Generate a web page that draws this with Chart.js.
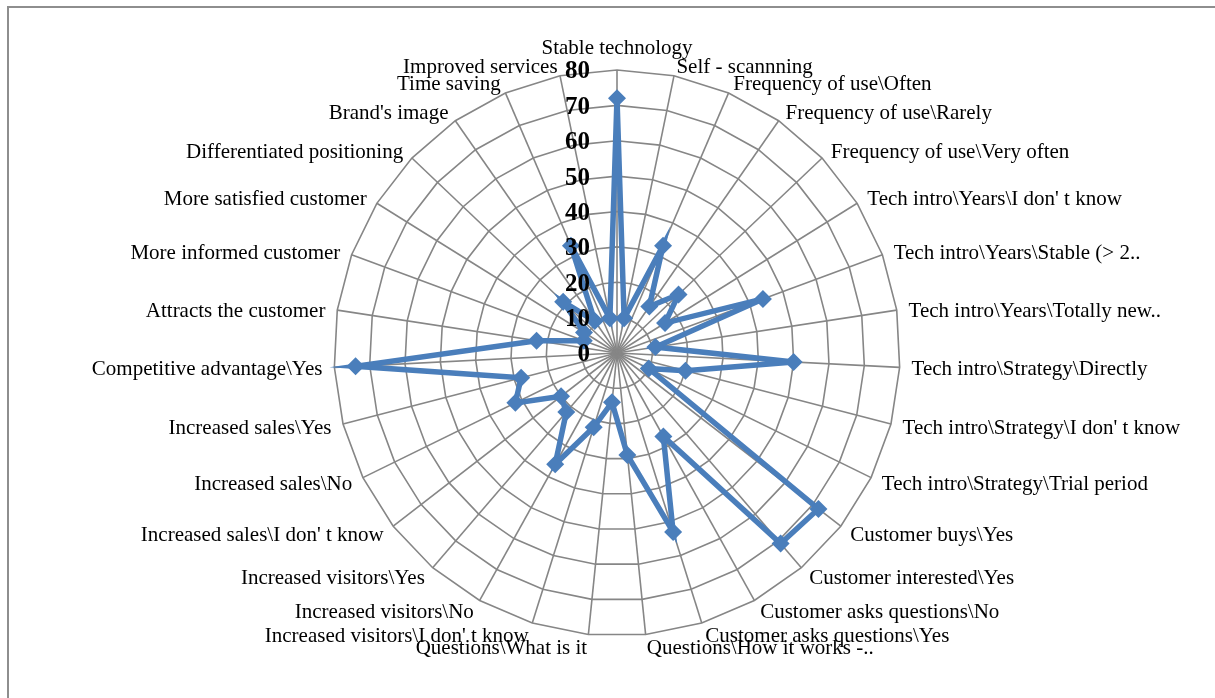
<!DOCTYPE html>
<html>
<head>
<meta charset="utf-8">
<script src="https://cdn.jsdelivr.net/npm/chart.js@4.4.0/dist/chart.umd.min.js"></script>
<style>
  body { margin: 0; background: #fff; }
  #frame { position: absolute; left: 7px; top: 6px; width: 1230px; height: 730px; border: 2px solid #8e8e8e; }
  #radarChart { position: absolute; left: 0; top: 0; }
</style>
</head>
<body>
<div id="frame"></div>
<canvas id="radarChart" width="1215" height="698"></canvas>
<script>
const categories = [
    'Stable technology',
    'Self - scannning',
    'Frequency of use\\Often',
    'Frequency of use\\Rarely',
    'Frequency of use\\Very often',
    'Tech intro\\Years\\I don\' t know',
    'Tech intro\\Years\\Stable (> 2..',
    'Tech intro\\Years\\Totally new..',
    'Tech intro\\Strategy\\Directly',
    'Tech intro\\Strategy\\I don\' t know',
    'Tech intro\\Strategy\\Trial period',
    'Customer buys\\Yes',
    'Customer interested\\Yes',
    'Customer asks questions\\No',
    'Customer asks questions\\Yes',
    'Questions\\How it works -..',
    'Questions\\What is it',
    'Increased visitors\\I don\' t know',
    'Increased visitors\\No',
    'Increased visitors\\Yes',
    'Increased sales\\I don\' t know',
    'Increased sales\\No',
    'Increased sales\\Yes',
    'Competitive advantage\\Yes',
    'Attracts the customer',
    'More informed customer',
    'More satisfied customer',
    'Differentiated positioning',
    'Brand\'s image',
    'Time saving',
    'Improved services'
];

const values = [72, 10, 33, 16, 24, 16, 44, 11, 50, 20, 10, 72, 71, 27, 53, 29,
                14, 22, 36, 22, 20, 32, 28, 74, 23, 10, 11, 21, 11, 33, 10];

const tickValues = [0, 10, 20, 30, 40, 50, 60, 70, 80];

const blue = '#4a7ebb';
const gridGray = '#868686';

// tick labels: bold, right-aligned just left of the vertical axis
const tickLabelPlugin = {
    id: 'tickLabels',
    afterDatasetsDraw(chart) {
        const scale = chart.scales.r;
        const ctx = chart.ctx;
        ctx.save();
        ctx.font = 'bold 25px "Liberation Serif", "Times New Roman", serif';
        ctx.fillStyle = '#000';
        ctx.textAlign = 'right';
        ctx.textBaseline = 'middle';
        tickValues.forEach(v => {
            const d = scale.getDistanceFromCenterForValue(v);
            ctx.fillText(String(v), scale.xCenter - 27, scale.yCenter - d + 2);
        });
        ctx.restore();
    }
};

// category labels placed like Excel: vertically centred beside each spoke
const pointLabelPlugin = {
    id: 'pointLabelsExcel',
    afterDraw(chart) {
        const scale = chart.scales.r;
        const ctx = chart.ctx;
        const labels = chart.data.labels;
        ctx.save();
        ctx.font = '21px "Liberation Serif", "Times New Roman", serif';
        ctx.fillStyle = '#000';
        labels.forEach((label, i) => {
            const p = scale.getPointPosition(i, scale.drawingArea + 12);
            if (i === 0) {
                ctx.textAlign = 'center';
                ctx.textBaseline = 'bottom';
                ctx.fillText(label, p.x, p.y + 1);
                return;
            }
            ctx.textAlign = p.x >= scale.xCenter ? 'left' : 'right';
            ctx.textBaseline = 'middle';
            ctx.fillText(label, p.x, p.y + (p.y < scale.yCenter ? 3 : 2));
        });
        ctx.restore();
    }
};

new Chart(document.getElementById('radarChart'), {
    type: 'radar',
    data: {
        labels: categories,
        datasets: [{
            data: values,
            borderColor: blue,
            backgroundColor: blue,
            borderWidth: 5.5,
            fill: false,
            pointStyle: 'rectRot',
            pointRadius: 9,
            pointBorderWidth: 0,
            pointBackgroundColor: blue
        }]
    },
    options: {
        responsive: false,
        animation: false,
        layout: {
            padding: { left: 334, top: 70, right: 315, bottom: 62 }
        },
        plugins: {
            legend: { display: false },
            tooltip: { enabled: false }
        },
        scales: {
            r: {
                min: 0,
                max: 80,
                ticks: { display: false, stepSize: 10 },
                pointLabels: { display: false },
                grid: { color: gridGray, lineWidth: 1.6 },
                angleLines: { color: gridGray, lineWidth: 1.6 }
            }
        }
    },
    plugins: [tickLabelPlugin, pointLabelPlugin]
});
</script>
</body>
</html>
